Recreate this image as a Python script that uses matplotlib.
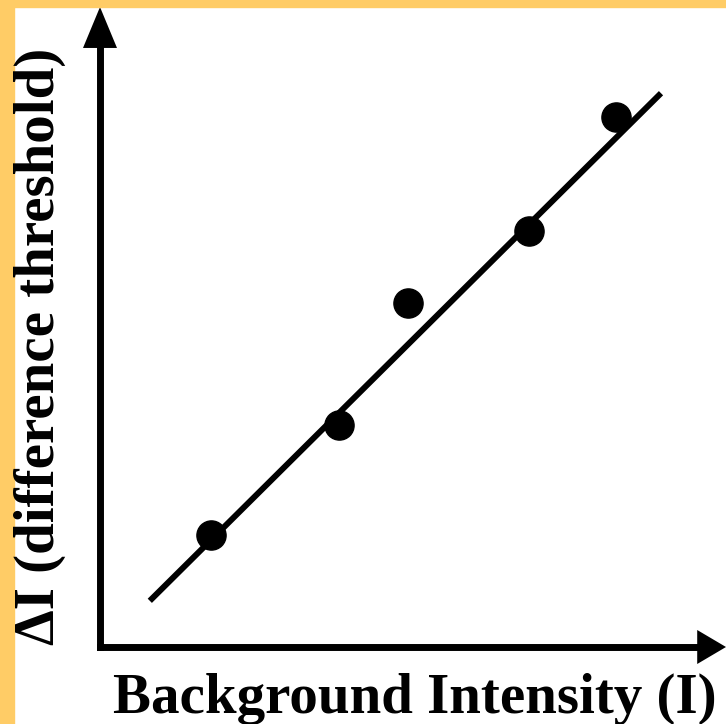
import matplotlib
matplotlib.use("Agg")
import matplotlib.pyplot as plt
from matplotlib.patches import Rectangle

# valores (unidades arbitrarias)
intensidad = [1.85, 3.98, 5.13, 7.15, 8.60]
umbral = [1.87, 3.70, 5.73, 6.93, 8.83]
recta_x = [0.83, 9.35]
recta_y = [0.77, 9.23]

xlabel = 'Background Intensity (I)'
ylabel = '\u0394I (difference threshold)'

W, H = 726, 724
fig = plt.figure(figsize=(W / 100, H / 100), dpi=100)
fig.patch.set_facecolor('white')

# borde naranja (arriba e izquierda)
naranja = '#FFCC66'
fig.patches.append(Rectangle((0, 1 - 7 / H), 1, 7 / H, transform=fig.transFigure,
                             color=naranja, zorder=0))
fig.patches.append(Rectangle((0, 0), 14 / W, 1, transform=fig.transFigure,
                             color=naranja, zorder=0))

ax = fig.add_axes([100 / W, 77 / H, 626 / W, 640 / H])
ax.set_xlim(0, 626 / 60)
ax.set_ylim(0, 640 / 60)
ax.axis('off')

ax.plot(recta_x, recta_y, color='black', lw=4.3, solid_capstyle='butt')
ax.plot(intensidad, umbral, 'o', color='black', ms=21)

# ejes con flechas
lw_eje = 5.0
ax.plot([0, 0], [0, 0.94], color='black', lw=lw_eje, transform=ax.transAxes,
        clip_on=False, solid_capstyle='projecting')
ax.plot([0, 0.96], [0, 0], color='black', lw=lw_eje, transform=ax.transAxes,
        clip_on=False, solid_capstyle='projecting')
ax.fill([-17 / 626, 17 / 626, 0], [0.936, 0.936, 1.0], color='black',
        transform=ax.transAxes, clip_on=False, lw=0)
ax.fill([0.954, 0.954, 1.0], [-17 / 640, 17 / 640, 0], color='black',
        transform=ax.transAxes, clip_on=False, lw=0)

fuente = dict(family='Liberation Serif', weight='bold', size=41)
fig.text(415 / W, (H - 713) / H, xlabel, ha='center', va='baseline', **fuente)
fig.text(40 / W, 1 - 346 / H, ylabel, ha='center', va='center', rotation=90, **fuente)

fig.savefig('out.png', dpi=100)
